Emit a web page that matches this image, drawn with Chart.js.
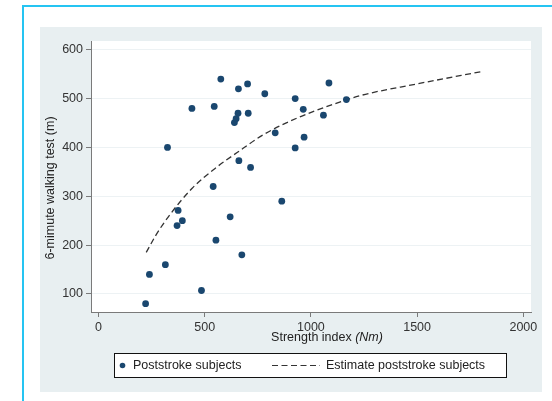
<!DOCTYPE html>
<html>
<head>
<meta charset="utf-8">
<script src="https://cdn.jsdelivr.net/npm/chart.js@4/dist/chart.umd.min.js"></script>
<style>
  html, body { margin: 0; padding: 0; background: #fff; }
  #wrap { position: relative; width: 552px; height: 401px; }
</style>
</head>
<body>
<div id="wrap"><canvas id="chart"></canvas></div>
<script>
// observed subjects
const strengthIndex = [222, 240, 315, 325, 370, 375, 395, 440, 485, 540, 545, 553, 576, 620, 640, 648, 657, 659, 661, 675, 702, 705, 716, 783, 832, 863, 926, 926, 964, 968, 1059, 1085, 1167];
const walkingTest = [80, 140, 160, 400, 240, 271, 250, 480, 107, 320, 484, 210, 540, 258, 451, 459, 470, 520, 373, 180, 530, 470, 359, 510, 430, 290, 500, 399, 478, 421, 466, 532, 498];
// fitted estimate
const estimateX = [225, 270, 329, 440, 549, 651, 776, 934, 1090, 1231, 1498, 1812];
const estimateY = [185, 220, 258, 316, 357, 389, 426, 460, 486, 506, 530, 556];
const xTicks = [0, 500, 1000, 1500, 2000];
const yTicks = [100, 200, 300, 400, 500, 600];

const FONT = '"Liberation Sans", Arial, Helvetica, sans-serif';
const DOT = '#1a476f';
const AXIS = '#7a7a7a';

const backdrop = {
  id: 'backdrop',
  beforeDraw(chart) {
    const { ctx, chartArea: a } = chart;
    ctx.save();
    ctx.fillStyle = '#fff';
    ctx.fillRect(0, 0, chart.width, chart.height);
    // cyan frame (left and top)
    ctx.strokeStyle = '#25c4f2';
    ctx.lineWidth = 2;
    ctx.beginPath();
    ctx.moveTo(23, chart.height);
    ctx.lineTo(23, 6);
    ctx.lineTo(chart.width, 6);
    ctx.stroke();
    // graph region
    ctx.fillStyle = '#e8eff1';
    ctx.fillRect(40, 27, 502, 365);
    // plot region
    ctx.fillStyle = '#fff';
    ctx.fillRect(a.left, a.top, a.right - a.left, a.bottom - a.top);
    ctx.restore();
  }
};

const titles = {
  id: 'titles',
  afterDraw(chart) {
    const ctx = chart.ctx;
    ctx.save();
    ctx.fillStyle = '#222';
    ctx.textBaseline = 'middle';
    // y title
    ctx.font = '12.5px ' + FONT;
    ctx.translate(51, 188);
    ctx.rotate(-Math.PI / 2);
    ctx.textAlign = 'center';
    ctx.fillText('6-mimute walking test (m)', 0, 0);
    ctx.setTransform(1, 0, 0, 1, 0, 0);
    // x title, unit in italics
    const a = 'Strength index ', b = '(Nm)';
    ctx.font = '12.5px ' + FONT;
    const wa = ctx.measureText(a).width;
    ctx.font = 'italic 12.5px ' + FONT;
    const wb = ctx.measureText(b).width;
    let x = 327 - (wa + wb) / 2;
    ctx.textAlign = 'left';
    ctx.font = '12.5px ' + FONT;
    ctx.fillText(a, x, 338);
    ctx.font = 'italic 12.5px ' + FONT;
    ctx.fillText(b, x + wa, 338);
    ctx.restore();
  }
};

const boxLegend = {
  id: 'boxLegend',
  afterDraw(chart) {
    const ctx = chart.ctx;
    const ds = chart.data.datasets;
    ctx.save();
    ctx.fillStyle = '#fff';
    ctx.fillRect(114, 353, 392, 24);
    ctx.strokeStyle = '#111';
    ctx.lineWidth = 1;
    ctx.strokeRect(114.5, 353.5, 392, 24);
    ctx.font = '12.5px ' + FONT;
    ctx.textBaseline = 'middle';
    ctx.textAlign = 'left';
    // marker item
    ctx.fillStyle = DOT;
    ctx.beginPath();
    ctx.arc(122.5, 365.5, 2.8, 0, Math.PI * 2);
    ctx.fill();
    ctx.fillStyle = '#222';
    ctx.fillText(ds[0].label, 133, 366);
    // line item
    ctx.strokeStyle = '#333';
    ctx.lineWidth = 1.2;
    ctx.setLineDash([6, 3.5]);
    ctx.beginPath();
    ctx.moveTo(272, 365.5);
    ctx.lineTo(320, 365.5);
    ctx.stroke();
    ctx.setLineDash([]);
    ctx.fillText(ds[1].label, 326, 366);
    ctx.restore();
  }
};

new Chart(document.getElementById('chart'), {
  type: 'scatter',
  data: {
    datasets: [
      {
        label: 'Poststroke subjects',
        data: strengthIndex.map((v, i) => ({ x: v, y: walkingTest[i] })),
        backgroundColor: DOT,
        borderColor: DOT,
        pointRadius: 3.4,
        borderWidth: 0
      },
      {
        label: 'Estimate poststroke subjects',
        type: 'line',
        data: estimateX.map((v, i) => ({ x: v, y: estimateY[i] })),
        borderColor: '#333',
        borderWidth: 1.3,
        borderDash: [6, 3.5],
        pointRadius: 0,
        fill: false,
        cubicInterpolationMode: 'monotone'
      }
    ]
  },
  options: {
    responsive: true,
    maintainAspectRatio: false,
    animation: false,
    layout: { padding: { top: 41, right: 21, left: 0, bottom: 0 } },
    plugins: { legend: { display: false }, tooltip: { enabled: false } },
    scales: {
      x: {
        type: 'linear',
        min: -35,
        max: 2036,
        afterBuildTicks: s => { s.ticks = xTicks.map(v => ({ value: v })); },
        afterFit: s => { s.height = 89; },
        grid: { drawOnChartArea: false, drawTicks: true, tickLength: 5, tickColor: AXIS },
        border: { display: true, color: AXIS, width: 1 },
        ticks: { color: '#333', padding: 3, font: { family: FONT, size: 12.5 }, maxRotation: 0, callback: v => String(v) }
      },
      y: {
        type: 'linear',
        min: 63,
        max: 618,
        afterBuildTicks: s => { s.ticks = yTicks.map(v => ({ value: v })); },
        afterFit: s => { s.width = 91; },
        grid: { color: '#edf2f4', lineWidth: 1, drawTicks: true, tickLength: 5, tickColor: AXIS },
        border: { display: true, color: AXIS, width: 1 },
        ticks: { color: '#333', padding: 3, font: { family: FONT, size: 12.5 }, callback: v => String(v) }
      }
    }
  },
  plugins: [backdrop, titles, boxLegend]
});
</script>
</body>
</html>
